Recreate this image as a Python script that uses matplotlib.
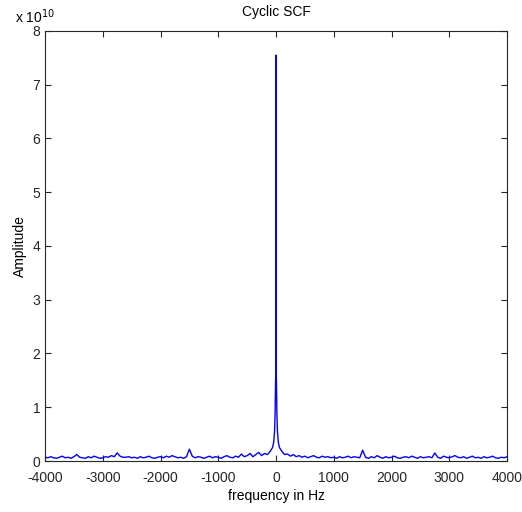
import numpy as np
import matplotlib
matplotlib.use('Agg')
import matplotlib.pyplot as plt

plt.rcParams['font.family'] = ['Liberation Sans', 'DejaVu Sans']
plt.rcParams['axes.unicode_minus'] = False

# amplitude in units of 1e10, left noise floor from -4000 to -200 Hz
amp_left = [0.07, 0.06, 0.08, 0.06, 0.05, 0.07, 0.09, 0.06, 0.07, 0.05,
            0.08, 0.12, 0.07, 0.06, 0.05, 0.08, 0.06, 0.09, 0.07, 0.05,
            0.06, 0.08, 0.07, 0.10, 0.08, 0.15, 0.09, 0.07, 0.07, 0.08,
            0.06, 0.07, 0.05, 0.08, 0.06, 0.07, 0.09, 0.06, 0.05, 0.07,
            0.08, 0.06, 0.09, 0.07, 0.10, 0.08, 0.06, 0.07, 0.05, 0.08,
            0.22, 0.09, 0.06, 0.08, 0.07, 0.05, 0.07, 0.09, 0.06, 0.08,
            0.07, 0.05, 0.08, 0.10, 0.07, 0.06, 0.09, 0.07, 0.13, 0.08,
            0.10, 0.14, 0.08, 0.12, 0.16, 0.10, 0.14]
# central peak
freq_mid = [-150, -100, -60, -40, -25, -15, -8, -4, 0, 4, 8, 15, 25, 40, 60, 100, 150]
amp_mid = [0.12, 0.18, 0.25, 0.35, 0.55, 0.9, 1.45, 1.6, 7.55,
           1.6, 1.45, 0.9, 0.55, 0.35, 0.25, 0.18, 0.12]
# right noise floor from 200 to 4000 Hz
amp_right = [0.13, 0.09, 0.12, 0.08, 0.10, 0.07, 0.09, 0.06, 0.08, 0.10,
             0.07, 0.06, 0.09, 0.07, 0.08, 0.06, 0.07, 0.05, 0.08, 0.06,
             0.07, 0.09, 0.06, 0.08, 0.07, 0.06, 0.20, 0.07, 0.05, 0.08,
             0.06, 0.10, 0.07, 0.05, 0.08, 0.06, 0.07, 0.09, 0.06, 0.05,
             0.07, 0.08, 0.06, 0.09, 0.07, 0.05, 0.08, 0.06, 0.07, 0.08,
             0.06, 0.15, 0.07, 0.05, 0.09, 0.07, 0.06, 0.08, 0.10, 0.07,
             0.06, 0.08, 0.05, 0.07, 0.09, 0.06, 0.07, 0.05, 0.08, 0.06,
             0.07, 0.09, 0.06, 0.05, 0.07, 0.06, 0.08]

freq = np.concatenate([np.linspace(-4000, -200, len(amp_left)), freq_mid,
                       np.linspace(200, 4000, len(amp_right))])
amp = np.concatenate([amp_left, amp_mid, amp_right])

fig = plt.figure(figsize=(5.22, 5.12), dpi=100)
ax = fig.add_axes([0.0862, 0.0996, 0.8851, 0.8399])
ax.plot(freq, amp, color='#0000ff', linewidth=1.0)
ax.set_xlim([-4000, 4000])
ax.set_ylim([0, 8])
ax.set_xticks(np.arange(-4000, 4001, 1000))
ax.set_yticks(np.arange(0, 9, 1))
ax.tick_params(direction='in', top=True, right=True, length=4, labelsize=10,
               colors='#262626', width=0.8)
ax.tick_params(axis='x', pad=7)
for s in ax.spines.values():
    s.set_color('#262626')
    s.set_linewidth(0.8)
ax.set_title('Cyclic SCF', fontsize=10, pad=11)
ax.set_xlabel('frequency in Hz', fontsize=10, labelpad=3)
ax.set_ylabel('Amplitude', fontsize=10, labelpad=4)
ax.text(-0.066, 1.012, r'x 10$^{10}$', transform=ax.transAxes, fontsize=10,
        ha='left', va='bottom')
fig.savefig('out.png')
